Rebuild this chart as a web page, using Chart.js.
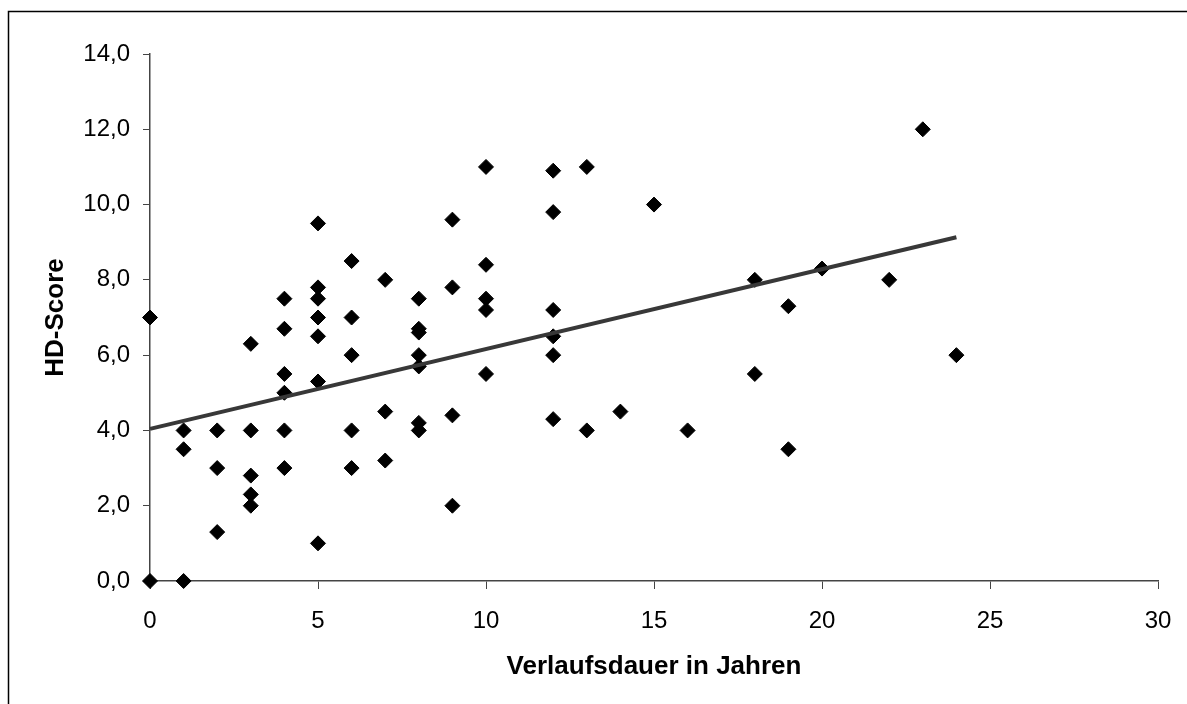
<!DOCTYPE html>
<html>
<head>
<meta charset="utf-8">
<script src="https://cdn.jsdelivr.net/npm/chart.js@4/dist/chart.umd.min.js"></script>
<style>
  html, body { margin: 0; padding: 0; background: #fff; }
  #wrap { width: 1187px; height: 704px; }
</style>
</head>
<body>
<div id="wrap"><canvas id="chart" width="1187" height="704"></canvas></div>
<script>
// Verlaufsdauer (years) and HD-Score per patient
const years = [
  0, 0,
  1, 1, 1,
  2, 2, 2,
  3, 3, 3, 3, 3,
  4, 4, 4, 4, 4, 4,
  5, 5, 5, 5, 5, 5, 5,
  6, 6, 6, 6, 6,
  7, 7, 7,
  8, 8, 8, 8, 8, 8, 8,
  9, 9, 9, 9,
  10, 10, 10, 10, 10,
  12, 12, 12, 12, 12, 12,
  13, 13,
  14, 15, 16,
  18, 18,
  19, 19,
  20, 22, 23, 24
];
const scores = [
  0.0, 7.0,
  0.0, 4.0, 3.5,
  4.0, 3.0, 1.3,
  6.3, 4.0, 2.8, 2.3, 2.0,
  7.5, 6.7, 5.5, 5.0, 4.0, 3.0,
  9.5, 7.8, 7.5, 7.0, 6.5, 5.3, 1.0,
  8.5, 7.0, 6.0, 4.0, 3.0,
  8.0, 4.5, 3.2,
  7.5, 6.7, 6.6, 6.0, 5.7, 4.2, 4.0,
  9.6, 7.8, 4.4, 2.0,
  11.0, 8.4, 7.5, 7.2, 5.5,
  10.9, 9.8, 7.2, 6.5, 6.0, 4.3,
  11.0, 4.0,
  4.5, 10.0, 4.0,
  8.0, 5.5,
  7.3, 3.5,
  8.3, 8.0, 12.0, 6.0
];

// linear trend line end points as drawn
const trendX = [0, 24];
const trendY = [4.04, 9.13];

const points = years.map((x, i) => ({ x: x, y: scores[i] }));
const trend = trendX.map((x, i) => ({ x: x, y: trendY[i] }));

const axisColor = "#444";

// outer frame of the Excel-like chart
const framePlugin = {
  id: "frame",
  afterDraw(chart) {
    const ctx = chart.ctx;
    ctx.save();
    ctx.strokeStyle = "#000";
    ctx.lineWidth = 1.5;
    ctx.strokeRect(8.5, 11.5, 1300, 800);
    ctx.restore();
  }
};

const ctx = document.getElementById("chart").getContext("2d");
new Chart(ctx, {
  type: "scatter",
  data: {
    datasets: [
      {
        type: "line",
        label: "Trend",
        data: trend,
        borderColor: "#383838",
        borderWidth: 4,
        pointRadius: 0,
        fill: false,
        clip: false,
        order: 0
      },
      {
        label: "HD-Score",
        data: points,
        pointStyle: "rectRot",
        pointRadius: 7.5,
        pointBackgroundColor: "#000",
        pointBorderColor: "#000",
        pointBorderWidth: 1,
        clip: false,
        order: 1
      }
    ]
  },
  plugins: [framePlugin],
  options: {
    responsive: false,
    animation: false,
    layout: { padding: { left: 0, top: 54, right: 29, bottom: 0 } },
    plugins: {
      legend: { display: false },
      tooltip: { enabled: false }
    },
    scales: {
      x: {
        type: "linear",
        min: 0,
        max: 30,
        afterFit: (s) => {
          s.height = 123;
          s.paddingLeft = 0;
          s.paddingRight = 0;
        },
        ticks: {
          stepSize: 5,
          color: "#000",
          padding: 18,
          font: { family: "Liberation Sans", size: 24 }
        },
        grid: {
          drawOnChartArea: false,
          color: axisColor,
          tickLength: 8
        },
        border: { color: axisColor, width: 1.5 },
        title: {
          display: true,
          text: "Verlaufsdauer in Jahren",
          color: "#000",
          padding: { top: 0, bottom: 22 },
          font: { family: "Liberation Sans", size: 26, weight: "bold" }
        }
      },
      y: {
        type: "linear",
        min: 0,
        max: 14,
        afterFit: (s) => {
          s.width = 150;
          s.paddingTop = 0;
          s.paddingBottom = 0;
        },
        ticks: {
          stepSize: 2,
          color: "#000",
          padding: 13,
          font: { family: "Liberation Sans", size: 24 },
          callback: (v) => v.toFixed(1).replace(".", ",")
        },
        grid: {
          drawOnChartArea: false,
          color: axisColor,
          tickLength: 7
        },
        border: { color: axisColor, width: 1.5 },
        title: {
          display: true,
          text: "HD-Score",
          color: "#000",
          padding: { top: 40, bottom: 0 },
          font: { family: "Liberation Sans", size: 26, weight: "bold" }
        }
      }
    }
  }
});
</script>
</body>
</html>
